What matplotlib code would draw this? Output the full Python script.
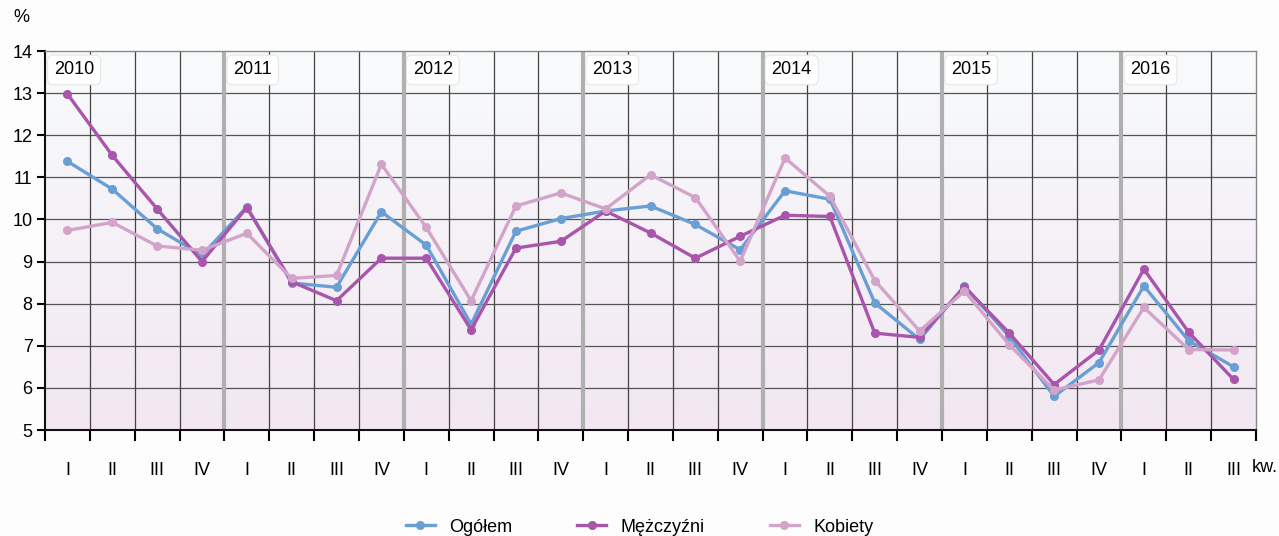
import numpy as np
import matplotlib
matplotlib.use('Agg')
import matplotlib.pyplot as plt
from matplotlib.colors import LinearSegmentedColormap

plt.rcParams['font.family'] = ['Liberation Sans Narrow', 'Liberation Sans', 'DejaVu Sans']

years = ['2010', '2011', '2012', '2013', '2014', '2015', '2016']
quarters = ['I', 'II', 'III', 'IV'] * 6 + ['I', 'II', 'III']

ogolem = [11.38, 10.72, 9.78, 9.15,
          10.30, 8.49, 8.39, 10.18,
          9.39, 7.51, 9.72, 10.02,
          10.20, 10.32, 9.88, 9.28,
          10.68, 10.48, 8.02, 7.15,
          8.42, 7.22, 5.80, 6.60,
          8.42, 7.12, 6.50]
mezczyzni = [12.98, 11.52, 10.25, 9.00,
             10.28, 8.52, 8.07, 9.08,
             9.08, 7.38, 9.32, 9.48,
             10.20, 9.68, 9.08, 9.60,
             10.10, 10.07, 7.30, 7.20,
             8.40, 7.30, 6.08, 6.90,
             8.82, 7.32, 6.20]
kobiety = [9.74, 9.93, 9.37, 9.27,
           9.67, 8.60, 8.67, 11.31,
           9.81, 8.07, 10.32, 10.63,
           10.25, 11.06, 10.52, 9.01,
           11.46, 10.55, 8.55, 7.35,
           8.30, 7.02, 5.95, 6.19,
           7.91, 6.91, 6.90]

series = [('Ogółem', ogolem, '#6a9fd5'),
          ('Mężczyźni', mezczyzni, '#a955ab'),
          ('Kobiety', kobiety, '#d3a4ca')]

fig = plt.figure(figsize=(12.79, 5.36), dpi=100)
ax = fig.add_axes([45/1279, 1 - 430/536, (1256 - 45)/1279, (430 - 51)/536])

n = len(quarters)
x = np.arange(n) + 0.5

# background gradient, near white at top to pale lavender at bottom
cmap = LinearSegmentedColormap.from_list('bg', ['#f2e7f2', '#f8fbfc'])
grad = np.linspace(0, 1, 256).reshape(-1, 1)
ax.imshow(grad, cmap=cmap, aspect='auto', extent=[0, n, 5, 14], origin='lower', zorder=0)

for v in range(6, 14):
    ax.axhline(v, color='#555555', lw=0.9, zorder=1)
for q in range(1, n):
    if q % 4 == 0:
        ax.axvline(q, color='#b0b0b0', lw=3, zorder=1)
    else:
        ax.axvline(q, color='#444444', lw=0.9, zorder=1)

for name, vals, col in series:
    ax.plot(x, vals, color=col, lw=2.4, marker='o', markersize=5.5, label=name, zorder=3)

for i, yr in enumerate(years):
    ax.text(i * 4 + 0.2, 13.55, yr, fontsize=13, ha='left', va='center', zorder=4,
            bbox=dict(boxstyle='round,pad=0.35,rounding_size=0.3', fc='white', ec='#e6e6e6', lw=0.8))

ax.set_xlim(0, n)
ax.set_ylim(5, 14)
ax.set_yticks(range(5, 15))
ax.tick_params(axis='y', labelsize=13, length=6, width=1.5, direction='out', pad=3)
ax.set_xticks(range(0, n + 1))
ax.set_xticklabels([])
ax.tick_params(axis='x', length=8, width=1.5, direction='out')
ax.set_xticks(x, minor=True)
ax.set_xticklabels(quarters, minor=True, fontsize=13)
ax.tick_params(axis='x', which='minor', length=0, pad=23)

for s in ['left', 'bottom']:
    ax.spines[s].set_color('#111111')
    ax.spines[s].set_linewidth(1.5)
for s in ['top', 'right']:
    ax.spines[s].set_color('#888888')
    ax.spines[s].set_linewidth(1)

fig.text(13/1279, 1 - 18/536, '%', fontsize=13, ha='left', va='center')
fig.text(1252/1279, 1 - 468/536, 'kw.', fontsize=13, ha='left', va='center')

fig.legend(loc='center', bbox_to_anchor=(0.5, 1 - 527/536), ncol=3, frameon=False,
           fontsize=13, handlelength=1.6, columnspacing=3.6, handletextpad=0.8)

fig.savefig('out.png', dpi=100, facecolor='#fdfdfd')
